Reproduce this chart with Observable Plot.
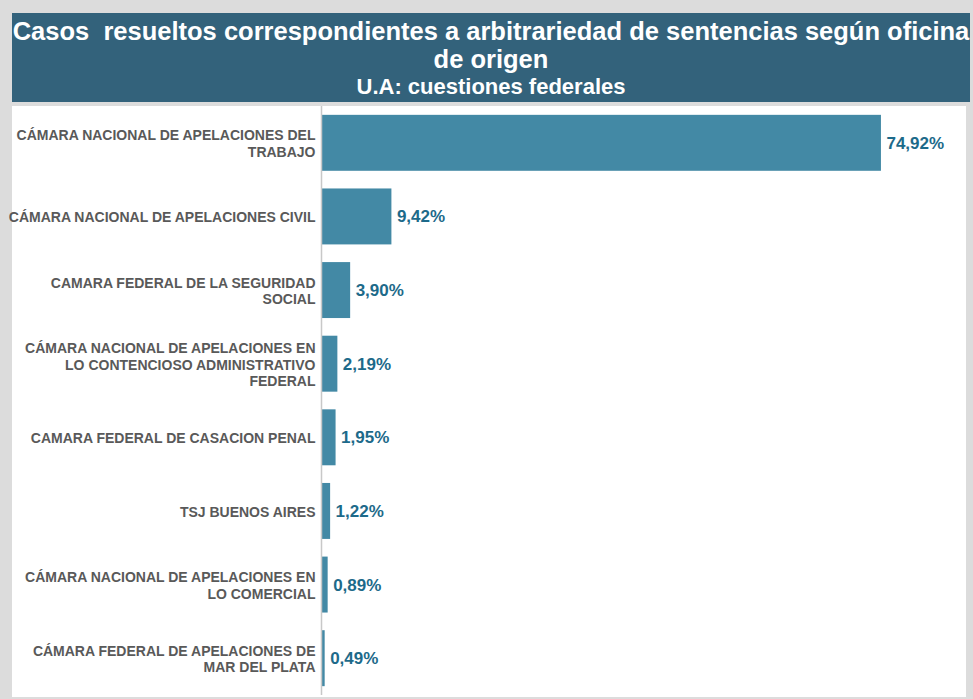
<!DOCTYPE html>
<html><head><meta charset="utf-8">
<script src="https://cdn.jsdelivr.net/npm/d3@7"></script>
<script src="https://cdn.jsdelivr.net/npm/@observablehq/plot@0.6"></script>
<style>
html,body{margin:0;padding:0;background:#dcdcdc;width:973px;height:699px;overflow:hidden;font-family:"Liberation Sans",Arial,sans-serif;}
#header{position:absolute;left:12px;top:13px;width:958px;height:89px;background:#33627b;color:#fff;font-weight:bold;text-align:center;overflow:hidden;}
#t1{position:absolute;left:-40px;right:-40px;top:4px;font-size:25.5px;line-height:28px;white-space:nowrap;}
#t3{position:absolute;left:0;right:0;top:63px;font-size:22px;line-height:22px;}
#chart{position:absolute;left:12px;top:106px;width:954px;height:591px;background:#fff;}
</style></head><body>
<div id="header"><div id="t1">Casos&nbsp; resueltos correspondientes a arbitrariedad de sentencias según oficina<br>de origen</div><div id="t3">U.A: cuestiones federales</div></div>
<div id="chart"></div>
<script>
const categories = [
  "CÁMARA NACIONAL DE APELACIONES DEL\nTRABAJO",
  "CÁMARA NACIONAL DE APELACIONES CIVIL",
  "CAMARA FEDERAL DE LA SEGURIDAD\nSOCIAL",
  "CÁMARA NACIONAL DE APELACIONES EN\nLO CONTENCIOSO ADMINISTRATIVO\nFEDERAL",
  "CAMARA FEDERAL DE CASACION PENAL",
  "TSJ BUENOS AIRES",
  "CÁMARA NACIONAL DE APELACIONES EN\nLO COMERCIAL",
  "CÁMARA FEDERAL DE APELACIONES DE\nMAR DEL PLATA"
];
const values = [74.92, 9.42, 3.90, 2.19, 1.95, 1.22, 0.89, 0.49];
const valueLabels = ["74,92%", "9,42%", "3,90%", "2,19%", "1,95%", "1,22%", "0,89%", "0,49%"];

const data = categories.map((c, i) => ({cat: c, value: values[i], label: valueLabels[i]}));

const chart = Plot.plot({
  width: 954,
  height: 591,
  marginLeft: 309,
  marginRight: 0,
  marginTop: 0,
  marginBottom: 2,
  style: {fontFamily: "'Liberation Sans', Arial, sans-serif", background: "#fff", overflow: "visible"},
  x: {domain: [0, 86.3], axis: null},
  y: {domain: categories, paddingInner: 0.24, paddingOuter: 0.12, round: false, label: null},
  marks: [
    Plot.axisY({tickSize: 0, tickPadding: 6, fontSize: 14, fontWeight: "bold", fill: "#595959", lineHeight: 1.19, label: null, lineWidth: 100}),
    Plot.barX(data, {x: "value", y: "cat", fill: "#4389a5"}),
    Plot.ruleX([0], {stroke: "#c8c8c8", strokeWidth: 1.5, y1: null, y2: null}),
    Plot.text(data, {x: "value", y: "cat", text: "label", textAnchor: "start", dx: 5, fill: "#1d6a8a", fontSize: 17, fontWeight: "bold"})
  ]
});
document.getElementById("chart").appendChild(chart);
</script>
</body></html>
